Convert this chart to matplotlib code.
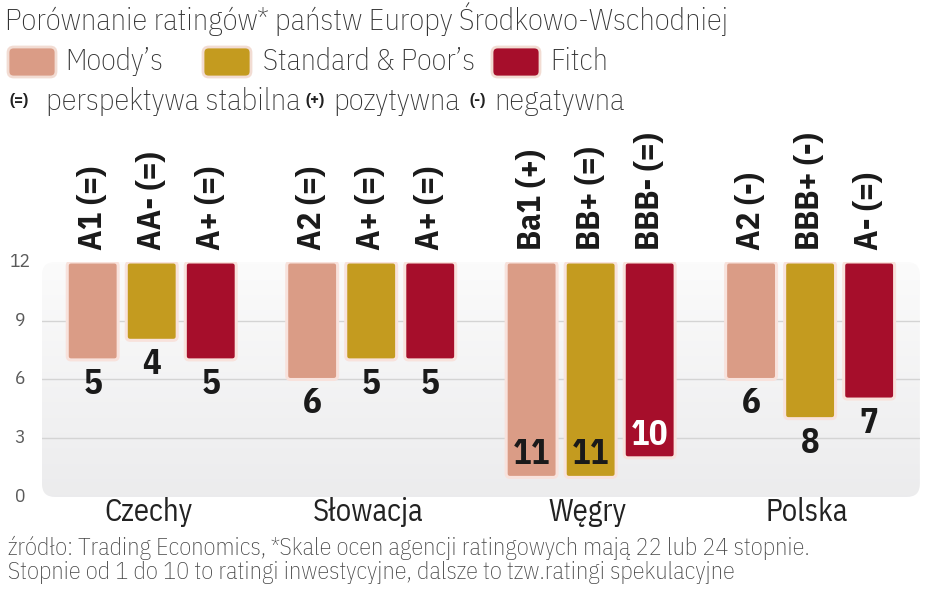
import numpy as np
import matplotlib.pyplot as plt
from matplotlib.patches import FancyBboxPatch

# dane
countries = ['Czechy', 'Słowacja', 'Węgry', 'Polska']
agencies = ["Moody\u2019s", 'Standard & Poor\u2019s', 'Fitch']
moodys = [5, 6, 11, 6]
sp = [4, 5, 11, 8]
fitch = [5, 5, 10, 7]
moodys_lbl = ['A1 (=)', 'A2 (=)', 'Ba1 (+)', 'A2 (-)']
sp_lbl = ['AA- (=)', 'A+ (=)', 'BB+ (=)', 'BBB+ (-)']
fitch_lbl = ['A+ (=)', 'A+ (=)', 'BBB- (=)', 'A- (=)']
top_level = 12
yticks = [0, 3, 6, 9, 12]

colors = ['#DA9C86', '#C49B1F', '#A60E2B']
FONT = ['IBM Plex Sans Condensed', 'DejaVu Sans']

fig = plt.figure(figsize=(9.48, 5.93), dpi=100)
ax = fig.add_axes([0.0443, 0.1619, 0.926, 0.3963])
ax.set_xlim(-0.5, 3.5)
ax.set_ylim(0, 12)
ax.axis('off')

# tło z gradientem (od białego u góry do jasnoszarego)
t = np.linspace(0, 1, 256).reshape(-1, 1, 1)
top_c = np.array([0.985, 0.985, 0.985])
bot_c = np.array([0.925, 0.925, 0.93])
grad = bot_c * (1 - t) + top_c * t
panel = FancyBboxPatch((-0.5, 0), 4, 12, boxstyle='round,pad=0,rounding_size=0.06',
                       mutation_aspect=11, facecolor='none', edgecolor='none')
ax.add_patch(panel)
img = ax.imshow(grad, extent=(-0.5, 3.5, 0, 12), aspect='auto', origin='lower', zorder=0)
img.set_clip_path(panel)

for y in [3, 6, 9]:
    ax.plot([-0.5, 3.5], [y, y], color='#d4d4d4', lw=1, zorder=1)

for y in yticks:
    fig.text(20 / 948, 1 - (497 - y * 235 / 12) / 593, str(y), ha='center', va='center',
             fontsize=14, color='#5a5a5a', family=FONT)

x = np.arange(len(countries))
step = 0.269
width = 0.232
series = [moodys, sp, fitch]
labels = [moodys_lbl, sp_lbl, fitch_lbl]

for k, (vals, lbls) in enumerate(zip(series, labels)):
    xs = x + (k - 1) * step
    bottoms = [top_level - v for v in vals]
    bars = ax.bar(xs, vals, width, bottom=bottoms, color='none')
    for b, v, lb in zip(bars, vals, lbls):
        b.set_visible(False)
        fb = FancyBboxPatch((b.get_x(), b.get_y()), b.get_width(), b.get_height(),
                            boxstyle='round,pad=0,rounding_size=0.018', mutation_aspect=11,
                            facecolor=colors[k], edgecolor='#f8e2dc', lw=2.2, zorder=3)
        ax.add_patch(fb)
        cx = b.get_x() + b.get_width() / 2
        if v >= 10:
            col = 'white' if k == 2 else '#1a1a1a'
            ax.annotate(str(v), (cx, b.get_y()), xytext=(0, 6), textcoords='offset pixels',
                        ha='center', va='bottom', fontsize=25, fontweight='bold',
                        color=col, family=FONT, zorder=4)
        else:
            ax.annotate(str(v), (cx, b.get_y()), xytext=(0, -8), textcoords='offset pixels',
                        ha='center', va='top', fontsize=25, fontweight='bold',
                        color='#1a1a1a', family=FONT, zorder=4)
        ax.annotate(lb, (cx, top_level), xytext=(0, 12), textcoords='offset pixels',
                    ha='center', va='bottom', rotation=90, fontsize=24, fontweight='bold',
                    color='#1a1a1a', family=FONT, annotation_clip=False)

for xi, c in zip(x, countries):
    ax.annotate(c, (xi, 0), xytext=(-3, -15), textcoords='offset pixels', ha='center',
                va='center', fontsize=22, color='#222222', family=FONT,
                annotation_clip=False)

# tytuł i legenda
fig.text(5 / 948, 1 - 19 / 593, 'Porównanie ratingów* państw Europy Środkowo-Wschodniej',
         ha='left', va='center', fontsize=22, fontweight='light', color='#333333', family=FONT)

sw_x = [8, 203, 492]
txt_x = [65, 263, 550]
for sx, tx, col, name in zip(sw_x, txt_x, colors, agencies):
    sw = FancyBboxPatch((sx / 948, 1 - 77 / 593), 48 / 948, 30 / 593,
                        boxstyle='round,pad=0,rounding_size=0.006', mutation_aspect=1.6,
                        transform=fig.transFigure, facecolor=col, edgecolor='#f2dcd3', lw=2)
    fig.add_artist(sw)
    fig.text(tx / 948, 1 - 62 / 593, name, ha='left', va='center', fontsize=21.5,
             fontweight='light', color='#333333', family=FONT)

persp = [('(=)', 10, True), ('perspektywa stabilna', 46, False), ('(+)', 305, True),
         ('pozytywna', 333, False), ('(-)', 469, True), ('negatywna', 494, False)]
for t_, px, bold in persp:
    fig.text(px / 948, 1 - 101 / 593, t_, ha='left', va='center',
             fontsize=12 if bold else 22, fontweight='bold' if bold else 'light',
             color='#222222' if bold else '#333333', family=FONT)

fig.text(8 / 948, 1 - 548 / 593,
         'źródło: Trading Economics, *Skale ocen agencji ratingowych mają 22 lub 24 stopnie.',
         ha='left', va='center', fontsize=17.5, fontweight='light', color='#444444', family=FONT)
fig.text(8 / 948, 1 - 572 / 593,
         'Stopnie od 1 do 10 to ratingi inwestycyjne, dalsze to tzw.ratingi spekulacyjne',
         ha='left', va='center', fontsize=17.5, fontweight='light', color='#444444', family=FONT)

fig.savefig('out.png', dpi=100)
